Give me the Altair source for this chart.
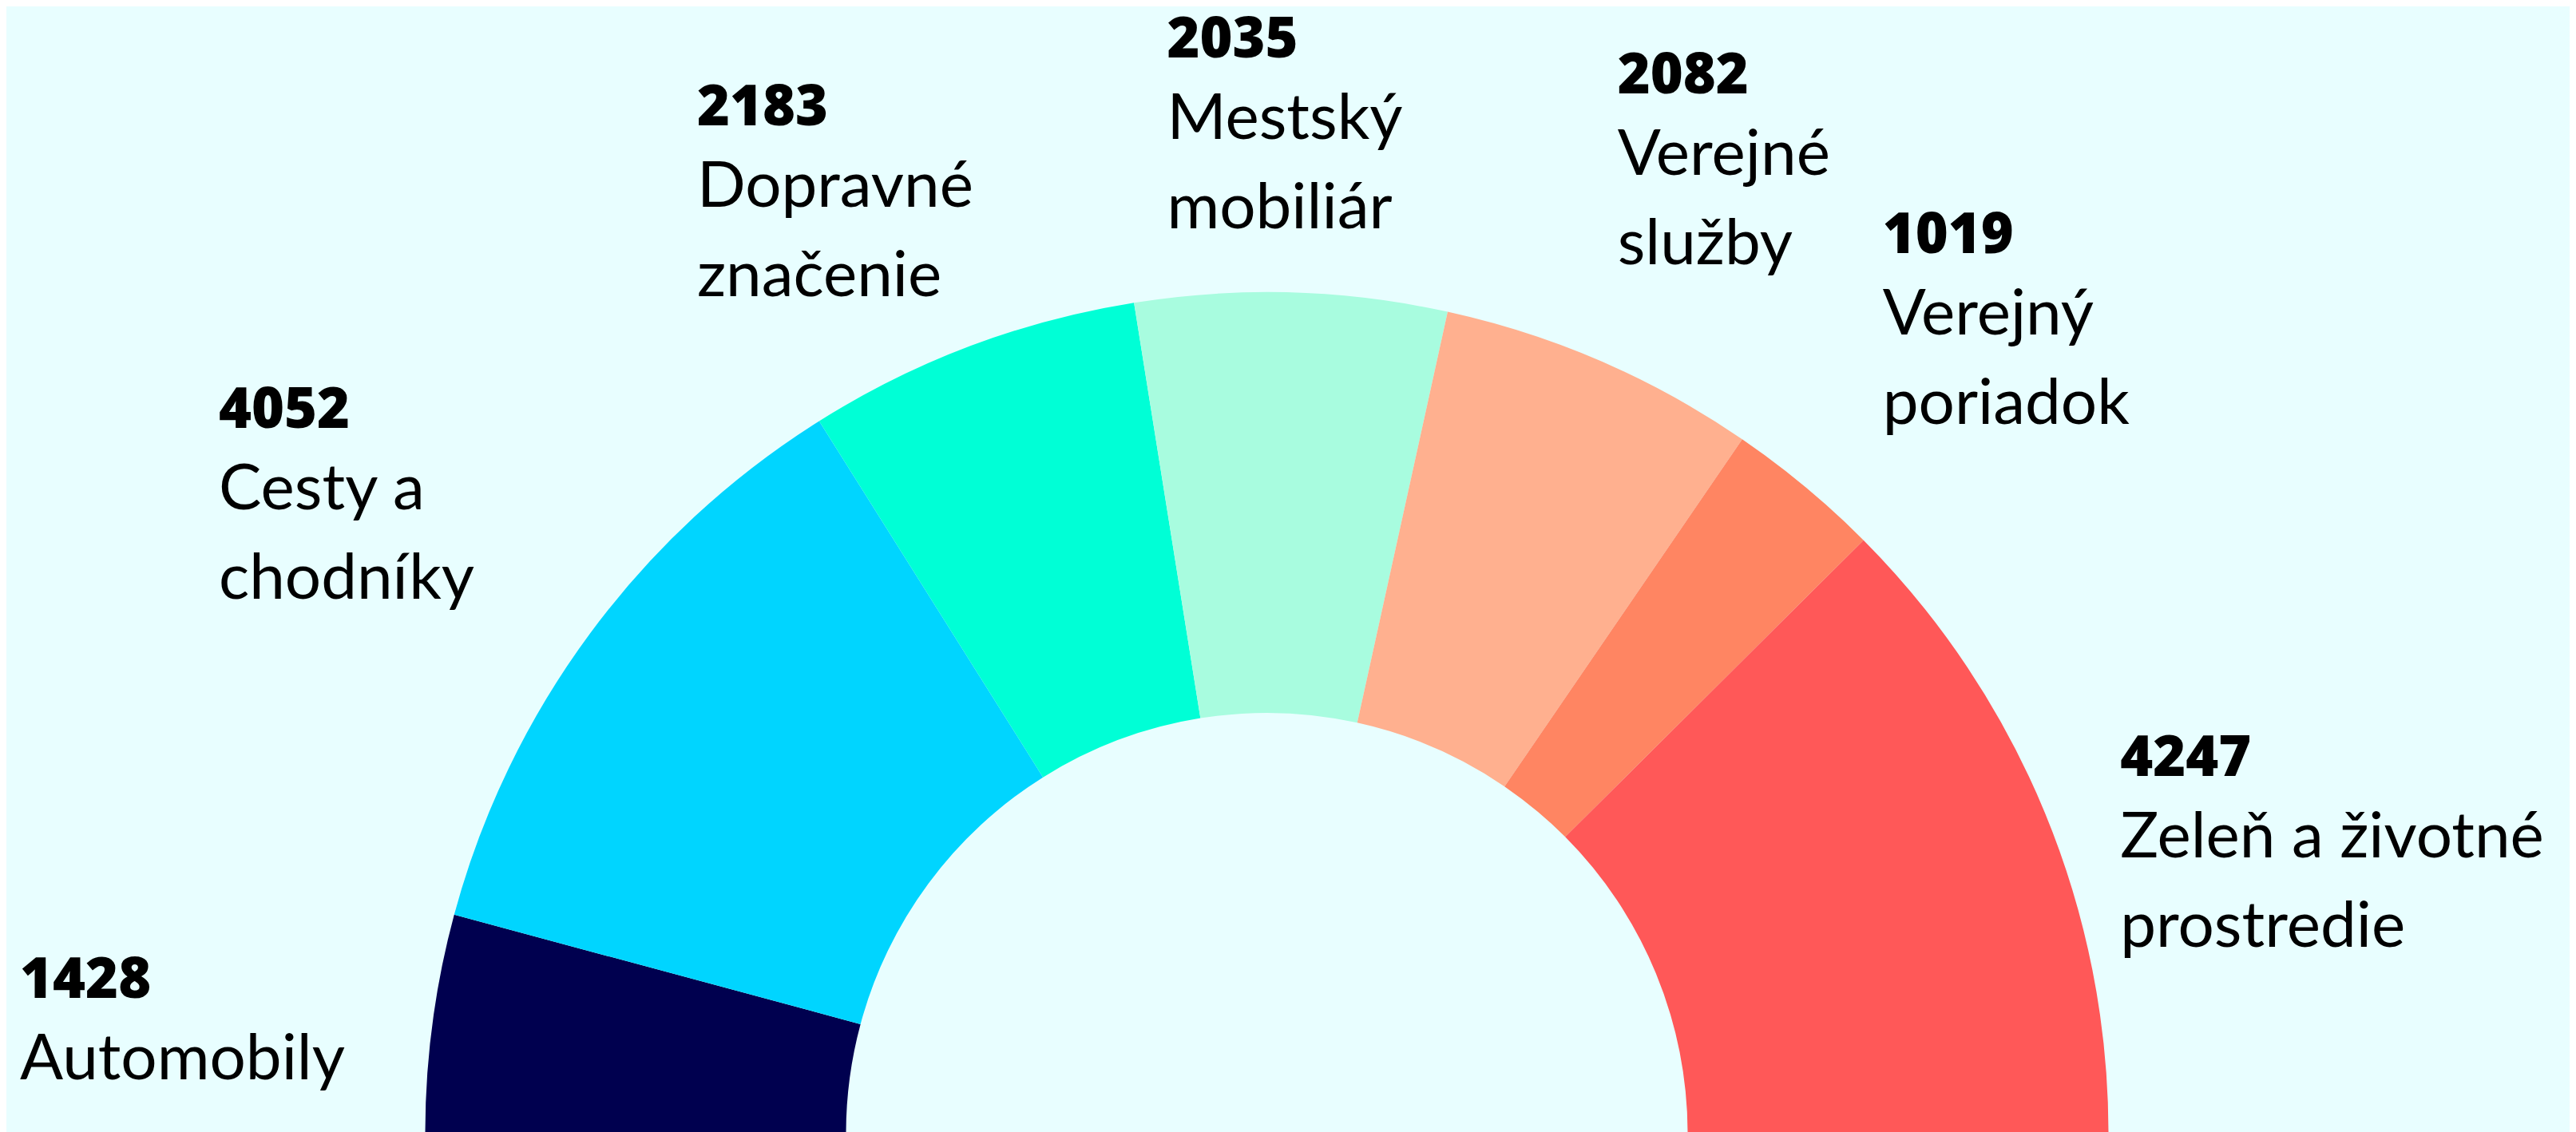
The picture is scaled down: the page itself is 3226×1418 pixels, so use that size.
import math
import altair as alt
import pandas as pd

# ---- data ----
categories = ["Automobily", "Cesty a chodníky", "Dopravné značenie", "Mestský mobiliár",
              "Verejné služby", "Verejný poriadok", "Zeleň a životné prostredie"]
name_lines = ["Automobily", "Cesty a\nchodníky", "Dopravné\nznačenie", "Mestský\nmobiliár",
              "Verejné\nslužby", "Verejný\nporiadok", "Zeleň a životné\nprostredie"]
values = [1428, 4052, 2183, 2035, 2082, 1019, 4247]
colors = ["#00004f", "#00d5ff", "#00ffd6", "#a8fcdf", "#ffb08f", "#ff8562", "#ff5858"]

# ---- layout ----
W, H = 3210, 1410
CX, CY = 1578.5, 1412
R_OUT, R_IN = 1054, 527
R_LABEL = 1340
# nudge of each label block from the point at R_LABEL on the slice's mid angle
label_dx = [-233, -235, -242, -164, -93, -86, -170]
label_dy = [6, -87, -9, -9, -73, -73, 63]

df = pd.DataFrame({
    "idx": list(range(len(categories))),
    "category": categories,
    "name": name_lines,
    "value": values,
    "ndx": label_dx,
    "ndy": label_dy,
})

base = alt.Chart(df)

arcs = base.mark_arc(radius=R_OUT, radius2=R_IN, stroke=None).encode(
    theta=alt.Theta("value:Q", stack=True,
                    scale=alt.Scale(range=[-math.pi / 2, math.pi / 2])),
    order=alt.Order("idx:Q"),
    color=alt.Color("category:N", scale=alt.Scale(domain=categories, range=colors), legend=None),
    x=alt.value(CX),
    y=alt.value(CY),
)

labels_base = base.transform_window(
    cum="sum(value)", sort=[{"field": "idx"}], frame=[None, 0]
).transform_joinaggregate(
    total="sum(value)"
).transform_calculate(
    mid="PI * (datum.cum - datum.value / 2) / datum.total",
).transform_calculate(
    lx=f"{CX} - {R_LABEL} * cos(datum.mid) + datum.ndx",
    ly=f"{CY} - {R_LABEL} * sin(datum.mid) + datum.ndy",
)

numbers = labels_base.mark_text(
    align="left", baseline="alphabetic", font="Open Sans", fontWeight=800, fontSize=70,
    color="#000000"
).encode(
    x=alt.X("lx:Q", scale=None, axis=None),
    y=alt.Y("ly:Q", scale=None, axis=None),
    text=alt.Text("value:Q", format="d"),
)

names = labels_base.mark_text(
    align="left", baseline="alphabetic", font="Lato", fontWeight="normal", fontSize=80,
    color="#000000", lineBreak="\n", lineHeight=112, dy=102
).encode(
    x=alt.X("lx:Q", scale=None, axis=None),
    y=alt.Y("ly:Q", scale=None, axis=None),
    text="name:N",
)

chart = alt.layer(arcs, numbers, names).properties(
    width=W, height=H, autosize=alt.AutoSizeParams(type="none"), padding=0,
    background="#e8feff",
).configure_view(stroke=None)

chart.save("out.html", embed_options={"renderer": "svg", "actions": False})
